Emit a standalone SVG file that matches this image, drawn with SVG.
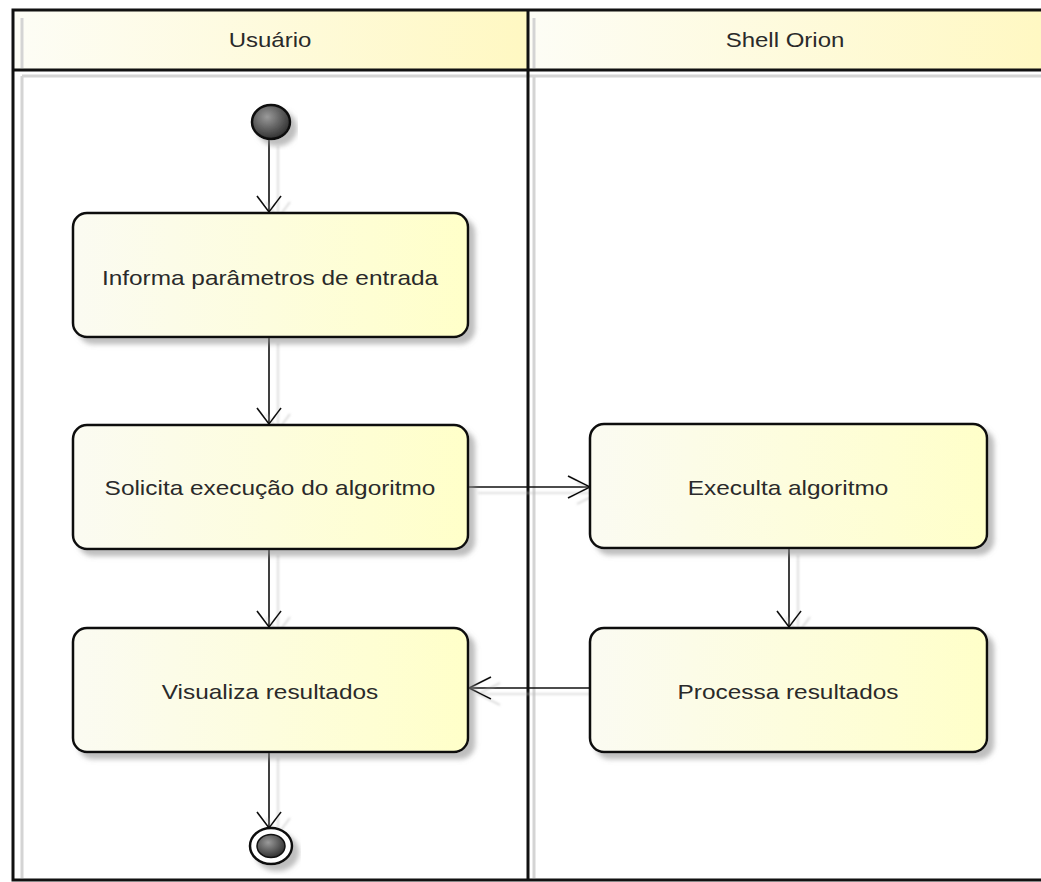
<svg xmlns="http://www.w3.org/2000/svg" width="1041" height="882" viewBox="0 0 1041 882">
<style>
.frame{fill:none;stroke:#111;stroke-width:3}
.lshadow{fill:none;stroke:#d4d4d4;stroke-width:3}
.act{fill:url(#boxg);stroke:#111;stroke-width:2.5;filter:url(#sh)}
.lbl{font-family:"Liberation Sans",Arial,sans-serif;font-size:20px;fill:#2a2a2a;text-anchor:middle}
.edge{fill:none;stroke:#111;stroke-width:1.6}
</style>
<defs>
<linearGradient id="boxg" x1="0" y1="0" x2="1" y2="0">
<stop offset="0" stop-color="#fbfbf2"/>
<stop offset="1" stop-color="#ffffc9"/>
</linearGradient>
<linearGradient id="hdrg" x1="0" y1="0" x2="1" y2="0">
<stop offset="0" stop-color="#fdfdf6"/>
<stop offset="1" stop-color="#fff8c2"/>
</linearGradient>
<radialGradient id="ball" cx="0.4" cy="0.35" r="0.7">
<stop offset="0" stop-color="#9a9a9a"/>
<stop offset="1" stop-color="#2a2a2a"/>
</radialGradient>
<filter id="sh" x="-10%" y="-10%" width="130%" height="140%">
<feDropShadow dx="6" dy="6" stdDeviation="2.5" flood-color="#888" flood-opacity="0.55"/>
</filter>
<filter id="esh" x="-50%" y="-20%" width="200%" height="140%">
<feDropShadow dx="9" dy="6" stdDeviation="1" flood-color="#bbb" flood-opacity="0.6"/>
</filter>
</defs>

<g id="swimlanes">
<rect x="13" y="10" width="515" height="60" fill="url(#hdrg)"/>
<rect x="528" y="10" width="520" height="60" fill="url(#hdrg)"/>
<line class="lshadow" x1="22" y1="76" x2="22" y2="878"/>
<line class="lshadow" x1="534" y1="76" x2="534" y2="878"/>
<line class="lshadow" x1="22" y1="76" x2="1041" y2="76"/>
<line class="lshadow" x1="22" y1="18" x2="22" y2="68"/>
<line class="lshadow" x1="534" y1="18" x2="534" y2="68"/>
<path class="frame" d="M1045 10 H13 V880 H1045"/>
<line class="frame" x1="13" y1="70" x2="1045" y2="70"/>
<line class="frame" x1="528" y1="10" x2="528" y2="880"/>
<text class="lbl" transform="translate(270,47) scale(1.2,1)">Usuário</text>
<text class="lbl" transform="translate(785,47) scale(1.2,1)">Shell Orion</text>
</g>

<g id="connectors" filter="url(#esh)">
<line class="edge" x1="269" y1="140" x2="269" y2="212"/>
<polyline class="edge" points="257,196 269,212 281,196"/>
<line class="edge" x1="269" y1="337" x2="269" y2="424"/>
<polyline class="edge" points="257,408 269,424 281,408"/>
<line class="edge" x1="269" y1="549" x2="269" y2="627"/>
<polyline class="edge" points="257,611 269,627 281,611"/>
<line class="edge" x1="269" y1="752" x2="269" y2="828"/>
<polyline class="edge" points="257,812 269,828 281,812"/>
<line class="edge" x1="469" y1="487" x2="590" y2="487"/>
<polyline class="edge" points="568,476 590,487 568,498"/>
<line class="edge" x1="789" y1="549" x2="789" y2="627"/>
<polyline class="edge" points="777,611 789,627 801,611"/>
<line class="edge" x1="589" y1="688" x2="469" y2="688"/>
<polyline class="edge" points="491,677 469,688 491,699"/>
</g>

<g id="initial">
<ellipse cx="271" cy="122" rx="19" ry="17" fill="url(#ball)" stroke="#111" stroke-width="2.5" filter="url(#sh)"/>
</g>

<g id="informa">
<rect class="act" x="73" y="213" width="395" height="124" rx="14"/>
<text class="lbl" transform="translate(270,285) scale(1.22,1)">Informa parâmetros de entrada</text>
</g>

<g id="solicita">
<rect class="act" x="73" y="425" width="395" height="124" rx="14"/>
<text class="lbl" transform="translate(270,495) scale(1.22,1)">Solicita execução do algoritmo</text>
</g>

<g id="visualiza">
<rect class="act" x="73" y="628" width="395" height="124" rx="14"/>
<text class="lbl" transform="translate(270,699) scale(1.22,1)">Visualiza resultados</text>
</g>

<g id="executa">
<rect class="act" x="590" y="424" width="397" height="124" rx="14"/>
<text class="lbl" transform="translate(788,495) scale(1.22,1)">Execulta algoritmo</text>
</g>

<g id="processa">
<rect class="act" x="590" y="628" width="397" height="124" rx="14"/>
<text class="lbl" transform="translate(788,699) scale(1.22,1)">Processa resultados</text>
</g>

<g id="final">
<ellipse cx="271" cy="846" rx="21" ry="18" fill="#fff" stroke="#111" stroke-width="2.5" filter="url(#sh)"/>
<ellipse cx="271" cy="846" rx="14" ry="11.5" fill="url(#ball)" stroke="#111" stroke-width="1.5"/>
</g>
</svg>
